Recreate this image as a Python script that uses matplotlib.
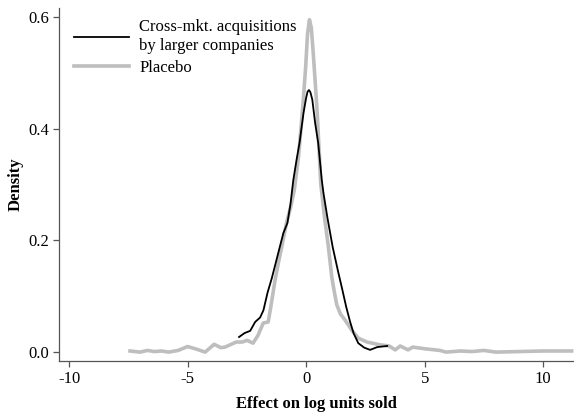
import matplotlib
matplotlib.use("Agg")
import matplotlib.pyplot as plt

plt.rcParams['font.family'] = ['Liberation Serif', 'DejaVu Serif']

# kernel density: acquisitions by larger companies
acq_x = [-2.83, -2.6, -2.36, -2.15, -1.94, -1.8, -1.63, -1.45, -1.28, -1.1, -0.96, -0.79,
         -0.66, -0.54, -0.4, -0.28, -0.11, 0.0, 0.06, 0.12, 0.18, 0.26, 0.38, 0.51,
         0.66, 0.73, 0.9, 1.12, 1.36, 1.52, 1.69, 1.85, 2.0, 2.2, 2.45, 2.7, 3.0, 3.42]
acq_y = [0.027, 0.034, 0.038, 0.054, 0.062, 0.075, 0.106, 0.132, 0.16, 0.19, 0.213, 0.231,
         0.265, 0.308, 0.345, 0.374, 0.428, 0.455, 0.466, 0.469, 0.465, 0.452, 0.41, 0.374,
         0.308, 0.285, 0.24, 0.188, 0.142, 0.113, 0.081, 0.055, 0.034, 0.016, 0.008, 0.004,
         0.009, 0.011]

# placebo density
plc_x = [-7.43, -7.0, -6.7, -6.4, -6.1, -5.8, -5.4, -5.0, -4.6, -4.26, -3.88, -3.6,
         -3.42, -2.95, -2.7, -2.49, -2.24, -2.03, -1.81, -1.6, -1.49, -1.31, -1.17, -1.03,
         -0.83, -0.65, -0.5, -0.32, -0.15, -0.02, 0.06, 0.14, 0.22, 0.3, 0.38, 0.46, 0.62,
         0.78, 0.94, 1.08, 1.18, 1.29, 1.45, 1.65, 1.93, 2.2, 2.57, 3.12, 3.5, 3.76, 3.97,
         4.3, 4.5, 5.0, 5.65, 5.9, 6.5, 7.0, 7.5, 8.0, 9.0, 10.0, 11.2]
plc_y = [0.002, 0.0, 0.003, 0.001, 0.002, 0.0, 0.003, 0.01, 0.005, 0.0, 0.014, 0.008,
         0.009, 0.018, 0.018, 0.021, 0.016, 0.03, 0.052, 0.054, 0.081, 0.129, 0.16, 0.188,
         0.231, 0.26, 0.29, 0.35, 0.434, 0.51, 0.57, 0.595, 0.58, 0.535, 0.485, 0.434, 0.30,
         0.24, 0.188, 0.135, 0.11, 0.085, 0.068, 0.057, 0.039, 0.025, 0.018, 0.013, 0.011,
         0.004, 0.011, 0.004, 0.009, 0.006, 0.003, 0.0, 0.002, 0.001, 0.003, 0.0, 0.001,
         0.002, 0.002]

xticks = [-10, -5, 0, 5, 10]
yticks = [0.0, 0.2, 0.4, 0.6]

fig = plt.figure(figsize=(5.74, 4.15), dpi=100)
ax = fig.add_axes([0.103, 0.130, 0.897, 0.851])

ax.plot(plc_x, plc_y, color='#bebebe', lw=2.6, zorder=2, label='Placebo')
ax.plot(acq_x, acq_y, color='black', lw=1.3, zorder=3,
        label='Cross-mkt. acquisitions\nby larger companies')

ax.set_xlim(-10.42, 11.3)
ax.set_ylim(-0.016, 0.616)
ax.set_xticks(xticks)
ax.set_xticklabels([str(t) for t in xticks])
ax.set_yticks(yticks)
ax.set_yticklabels(['%.1f' % t for t in yticks])

for s in ['top', 'right']:
    ax.spines[s].set_visible(False)
for s in ['left', 'bottom']:
    ax.spines[s].set_color('#555555')
    ax.spines[s].set_linewidth(0.9)
ax.tick_params(colors='#555555', labelcolor='black', length=4, width=0.9, labelsize=12,
               pad=3)

ax.set_xlabel('Effect on log units sold', fontweight='bold', fontsize=12, va='center')
ax.xaxis.set_label_coords(0.5, -0.122)
ax.set_ylabel('Density', fontweight='bold', fontsize=12, va='center')
ax.yaxis.set_label_coords(-0.085, 0.5)

h, l = ax.get_legend_handles_labels()
ax.legend(h[::-1], l[::-1], loc='upper left', frameon=False, fontsize=12,
          handlelength=3.3, handletextpad=0.6, labelspacing=0.35,
          bbox_to_anchor=(0.0, 1.01))

fig.savefig('out.png', dpi=100)
